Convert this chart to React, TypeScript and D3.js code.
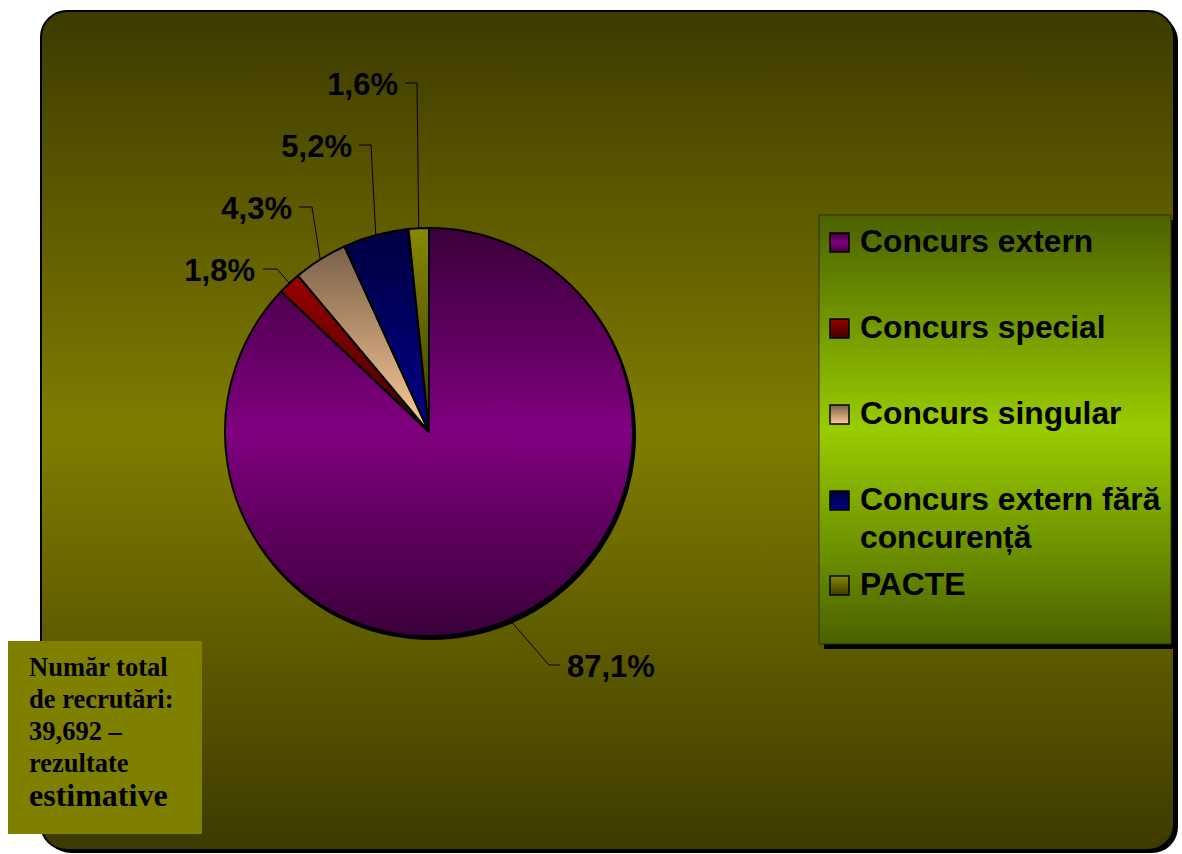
import React from "react";
import * as d3 from "d3";

const categories = [
  "Concurs extern",
  "Concurs special",
  "Concurs singular",
  "Concurs extern fără concurență",
  "PACTE",
];
const values = [87.1, 1.8, 4.3, 5.2, 1.6];
const valueLabels = ["87,1%", "1,8%", "4,3%", "5,2%", "1,6%"];
const legendLines = [
  ["Concurs extern"],
  ["Concurs special"],
  ["Concurs singular"],
  ["Concurs extern fără", "concurență"],
  ["PACTE"],
];
const noteLines = ["Număr total", "de recrutări:", "39,692 –", "rezultate", "estimative"];

const sliceColors = [
  { light: "#800080", dark: "#3a003a" },
  { light: "#9a0000", dark: "#400000" },
  { light: "#ffcc99", dark: "#7a6048" },
  { light: "#00008a", dark: "#000040" },
  { light: "#888800", dark: "#3c3c00" },
];

// label layout: elbow point and text anchor (layout, not data)
const labelLayout = [
  { ex: 549, ey: 665, hx: 560, tx: 567, ty: 677, anchor: "start" },
  { ex: 277, ey: 269, hx: 263, tx: 255, ty: 281, anchor: "end" },
  { ex: 312, ey: 207, hx: 299, tx: 292, ty: 219, anchor: "end" },
  { ex: 371, ey: 145, hx: 359, tx: 352, ty: 157, anchor: "end" },
  { ex: 417, ey: 83, hx: 405, tx: 398, ty: 95, anchor: "end" },
];

export default function App() {
  const W = 1182;
  const H = 854;
  const cx = 429;
  const cy = 432;
  const r = 204;

  const pie = d3
    .pie<number>()
    .sort(null)
    .value((d) => d)
    .startAngle(0)
    .endAngle(2 * Math.PI);
  const arcs = pie(values);
  const arcGen = d3.arc<d3.PieArcDatum<number>>().innerRadius(0).outerRadius(r);

  const legendX = 819;
  const legendY = 215;
  const legendW = 352;
  const legendH = 429;
  const rowBaselines = [252, 338, 424, 510, 595];

  return (
    <svg
      width={W}
      height={H}
      style={{ position: "absolute", left: 0, top: 0 }}
      xmlns="http://www.w3.org/2000/svg"
    >
      <defs>
        <linearGradient id="bgGrad" x1="0" y1="0" x2="0" y2="1">
          <stop offset="0" stopColor="#3e3a00" />
          <stop offset="0.5" stopColor="#7f7d00" />
          <stop offset="1" stopColor="#3e3a00" />
        </linearGradient>
        <linearGradient id="legGrad" x1="0" y1="0" x2="0" y2="1">
          <stop offset="0" stopColor="#4a6200" />
          <stop offset="0.5" stopColor="#99cc00" />
          <stop offset="1" stopColor="#4a6200" />
        </linearGradient>
        <linearGradient
          id="g0"
          gradientUnits="userSpaceOnUse"
          x1="0"
          y1={-r}
          x2="0"
          y2={r}
        >
          <stop offset="0" stopColor={sliceColors[0].dark} />
          <stop offset="0.5" stopColor={sliceColors[0].light} />
          <stop offset="1" stopColor={sliceColors[0].dark} />
        </linearGradient>
        <linearGradient id="g1" x1="0" y1="0" x2="0" y2="1">
          <stop offset="0" stopColor={sliceColors[1].light} />
          <stop offset="1" stopColor={sliceColors[1].dark} />
        </linearGradient>
        <linearGradient id="g2" x1="0" y1="0" x2="0" y2="1">
          <stop offset="0" stopColor={sliceColors[2].dark} />
          <stop offset="1" stopColor={sliceColors[2].light} />
        </linearGradient>
        <linearGradient id="g3" x1="0" y1="0" x2="0" y2="1">
          <stop offset="0" stopColor={sliceColors[3].dark} />
          <stop offset="1" stopColor={sliceColors[3].light} />
        </linearGradient>
        <linearGradient id="g4" x1="0" y1="0" x2="0" y2="1">
          <stop offset="0" stopColor={sliceColors[4].light} />
          <stop offset="1" stopColor={sliceColors[4].dark} />
        </linearGradient>
        <linearGradient id="s0" x1="0" y1="0" x2="0" y2="1">
          <stop offset="0" stopColor={sliceColors[0].dark} />
          <stop offset="0.5" stopColor={sliceColors[0].light} />
          <stop offset="1" stopColor={sliceColors[0].dark} />
        </linearGradient>
      </defs>

      {/* outer background */}
      <rect x={45} y={15} width={1133} height={838} rx={26} fill="#000" />
      <rect
        x={41}
        y={11}
        width={1133}
        height={839}
        rx={26}
        fill="url(#bgGrad)"
        stroke="#000"
        strokeWidth={2}
      />

      {/* pie shadow */}
      <circle cx={cx + 2} cy={cy + 3} r={r + 1} fill="#000" />
      <g transform={`translate(${cx},${cy})`}>
        {arcs.map((a, i) => (
          <path
            key={categories[i]}
            d={arcGen(a) || ""}
            fill={`url(#g${i})`}
            stroke="#000"
            strokeWidth={2}
            strokeLinejoin="round"
          />
        ))}
      </g>

      {/* leader lines & labels */}
      {arcs.map((a, i) => {
        const mid = (a.startAngle + a.endAngle) / 2;
        const px = cx + r * Math.sin(mid);
        const py = cy - r * Math.cos(mid);
        const L = labelLayout[i];
        return (
          <g key={`lab${i}`}>
            <polyline
              points={`${px},${py} ${L.ex},${L.ey} ${L.hx},${L.ey}`}
              fill="none"
              stroke="#000"
              strokeWidth={1}
            />
            <text
              x={L.tx}
              y={L.ty}
              textAnchor={L.anchor as any}
              fontFamily="'Liberation Sans', Arial, sans-serif"
              fontWeight="bold"
              fontSize={31}
              fill="#000"
            >
              {valueLabels[i]}
            </text>
          </g>
        );
      })}

      {/* legend */}
      <rect x={legendX + 5} y={legendY + 5} width={legendW} height={legendH} fill="#000" />
      <rect
        x={legendX}
        y={legendY}
        width={legendW}
        height={legendH}
        fill="url(#legGrad)"
        stroke="#2a3300"
        strokeWidth={1}
      />
      {legendLines.map((lines, i) => (
        <g key={`leg${i}`}>
          <rect
            x={830}
            y={rowBaselines[i] - 19}
            width={19}
            height={19}
            fill={i === 0 ? "url(#s0)" : `url(#g${i})`}
            stroke="#000"
            strokeWidth={1.5}
          />
          <text
            x={860}
            y={rowBaselines[i]}
            fontFamily="'Liberation Sans', Arial, sans-serif"
            fontWeight="bold"
            fontSize={31.8}
            fill="#000"
          >
            {lines.map((ln, j) => (
              <tspan key={j} x={860} dy={j === 0 ? 0 : 38}>
                {ln}
              </tspan>
            ))}
          </text>
        </g>
      ))}

      {/* note box */}
      <rect x={8} y={641} width={194} height={193} fill="#808000" />
      {noteLines.map((ln, i) => (
        <text
          key={`note${i}`}
          x={29}
          y={676 + i * 32 + (i === 4 ? 2 : 0)}
          fontFamily="'Liberation Serif', 'Times New Roman', serif"
          fontWeight="bold"
          fontSize={i === 4 ? 32 : 26.5}
          fill="#000"
        >
          {ln}
        </text>
      ))}
    </svg>
  );
}
